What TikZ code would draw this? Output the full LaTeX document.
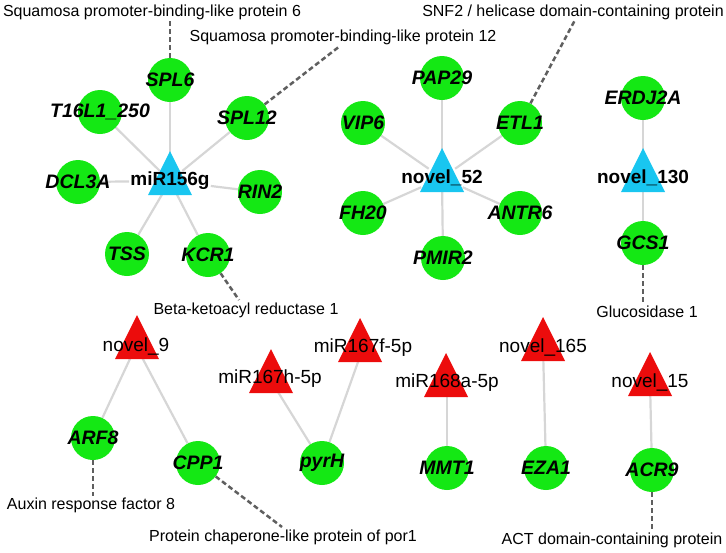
\documentclass[tikz,border=0pt]{standalone}
\usepackage{fontspec}
\setmainfont{Liberation Sans}
\usepackage{tikz}
\usetikzlibrary{backgrounds,calc}

\definecolor{genegreen}{RGB}{20,232,20}
\definecolor{mircyan}{RGB}{25,198,240}
\definecolor{mirred}{RGB}{236,12,12}
\definecolor{linkgrey}{RGB}{214,214,214}
\definecolor{annogrey}{RGB}{95,95,95}

\tikzset{
  gene/.style={circle, fill=genegreen, minimum size=44pt, inner sep=0pt, font=\fontsize{19.5}{19.5}\selectfont\bfseries\itshape,
    execute at begin node=\hbox to 0pt\bgroup\hss, execute at end node=\hss\egroup},
  mirlab/.style={inner sep=1pt, font=\fontsize{19}{19}\selectfont},
  link/.style={draw=linkgrey, line width=2.2pt},
  anno/.style={draw=annogrey, line width=2.5pt, dash pattern=on 5pt off 3pt},
  annotext/.style={inner sep=1pt, font=\fontsize{16}{16}\selectfont},
}
\newcommand{\mirtri}[3]{\fill[#3] (#1,#2-44) -- (#1+22,#2) -- (#1-22,#2) -- cycle;}

\begin{document}
\begin{tikzpicture}[x=1pt, y=-1pt]
\useasboundingbox (0,0) rectangle (726,552);

\node[gene] (spl6) at (170,80) {SPL6};
\node[gene] (t16l1) at (100,112) {T16L1\_250};
\node[gene] (spl12) at (247,118) {SPL12};
\node[gene] (dcl3a) at (78,182) {DCL3A};
\node[gene] (rin2) at (260,192) {RIN2};
\node[gene] (tss) at (127,254) {TSS};
\node[gene] (kcr1) at (208,255) {KCR1};
\node[gene] (pap29) at (442,78) {PAP29};
\node[gene] (vip6) at (363,123) {VIP6};
\node[gene] (etl1) at (520,123) {ETL1};
\node[gene] (fh20) at (363,213) {FH20};
\node[gene] (antr6) at (520,213) {ANTR6};
\node[gene] (pmir2) at (443,258) {PMIR2};
\node[gene] (erdj2a) at (643,98) {ERDJ2A};
\node[gene] (gcs1) at (643,243) {GCS1};
\node[gene] (arf8) at (93,438) {ARF8};
\node[gene] (cpp1) at (198,463) {CPP1};
\node[gene] (pyrh) at (322,463) {pyrH};
\node[gene] (mmt1) at (447,468) {MMT1};
\node[gene] (eza1) at (546,468) {EZA1};
\node[gene] (acr9) at (652,470) {ACR9};

\mirtri{170}{195}{mircyan}
\mirtri{442}{192}{mircyan}
\mirtri{643}{192}{mircyan}
\mirtri{137}{359}{mirred}
\mirtri{360}{362}{mirred}
\mirtri{271}{393}{mirred}
\mirtri{446}{397}{mirred}
\mirtri{543}{361}{mirred}
\mirtri{650}{396}{mirred}

\node[mirlab, font=\fontsize{19}{19}\selectfont\bfseries] (m156g) at (170,181) {miR156g};
\node[mirlab, font=\fontsize{19}{19}\selectfont\bfseries] (n52) at (442,178) {novel\_52};
\node[mirlab, font=\fontsize{19}{19}\selectfont\bfseries] (n130) at (643,178) {novel\_130};
\node[mirlab] (n9) at (136,346) {novel\_9};
\node[mirlab] (m167f) at (363,348) {miR167f-5p};
\node[mirlab] (m167h) at (270,379) {miR167h-5p};
\node[mirlab] (m168a) at (447,383) {miR168a-5p};
\node[mirlab] (n165) at (543,347) {novel\_165};
\node[mirlab] (n15) at (650,382) {novel\_15};

\node[annotext] (a6) at (152,12) {Squamosa promoter-binding-like protein 6};
\node[annotext] (a12) at (343,37) {Squamosa promoter-binding-like protein 12};
\node[annotext] (asnf) at (573,12) {SNF2 / helicase domain-containing protein};
\node[annotext] (akcr) at (246,310) {Beta-ketoacyl reductase 1};
\node[annotext] (agcs) at (647,312) {Glucosidase 1};
\node[annotext] (aarf) at (91,505) {Auxin response factor 8};
\node[annotext] (acpp) at (283,537) {Protein chaperone-like protein of por1};
\node[annotext] (aacr) at (612,540) {ACT domain-containing protein};

\coordinate (e12) at (340,46);
\coordinate (esnf) at (575,20);
\coordinate (ekcr) at (239,300);
\coordinate (ecpp) at (282,527);

\begin{scope}[on background layer]
\path[link] (m156g) edge (spl6) edge (t16l1) edge (spl12) edge (dcl3a) edge (rin2) edge (tss) edge (kcr1);
\path[link] (n52) edge (pap29) edge (vip6) edge (etl1) edge (fh20) edge (antr6) edge (pmir2);
\path[link] (n130) edge (erdj2a) edge (gcs1);
\path[link] (n9) edge (arf8) edge (cpp1);
\path[link] (m167h) edge (pyrh) (m167f) edge (pyrh);
\path[link] (m168a) edge (mmt1) (n165) edge (eza1) (n15) edge (acr9);

\draw[anno] (spl6) -- (spl6 |- a6.south);
\draw[anno] (spl12) -- (e12);
\draw[anno] (etl1) -- (esnf);
\draw[anno] (kcr1) -- (ekcr);
\draw[anno] (gcs1) -- (gcs1 |- agcs.north);
\draw[anno] (arf8) -- (arf8 |- aarf.north);
\draw[anno] (cpp1) -- (ecpp);
\draw[anno] (acr9) -- (acr9 |- aacr.north);
\end{scope}
\end{tikzpicture}
\end{document}
